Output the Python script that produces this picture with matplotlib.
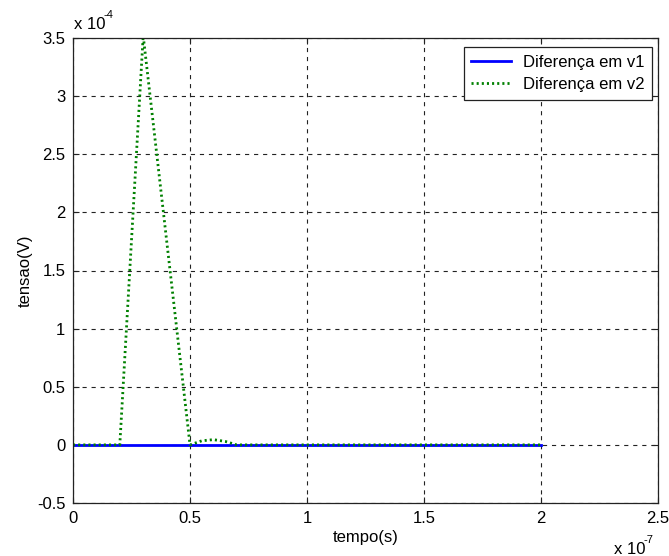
import matplotlib
matplotlib.use("Agg")
import matplotlib.pyplot as plt
import numpy as np

plt.rcParams['font.family'] = ['Liberation Sans', 'DejaVu Sans']
plt.rcParams['lines.scale_dashes'] = False

# Dados (tempo em s, tensao em V)
t_v1 = np.array([0.0, 2.0]) * 1e-7
dif_v1 = np.array([0.0, 0.0]) * 1e-4

t_v2 = np.array([0.0, 0.2, 0.3, 0.4, 0.5, 0.55, 0.6, 0.65, 0.7, 2.0]) * 1e-7
dif_v2 = np.array([0.0, 0.0, 3.52, 1.76, 0.0, 0.035, 0.045, 0.03, 0.0, 0.0]) * 1e-4

xticks = [0, 0.5, 1, 1.5, 2, 2.5]
yticks = [-0.5, 0, 0.5, 1, 1.5, 2, 2.5, 3, 3.5]

fs = 12

fig = plt.figure(figsize=(6.69, 5.56), dpi=100)
ax = fig.add_axes([73/669, 53/556, 585/669, 465/556])

ax.plot(t_v1, dif_v1, color='#0000ff', linewidth=2.0, label='Diferença em v1')
ax.plot(t_v2, dif_v2, color='#008000', linewidth=2.0, linestyle=(0, (1.5, 2.2)),
        label='Diferença em v2')

ax.set_xlim(0, 2.5e-7)
ax.set_ylim(-0.5e-4, 3.5e-4)
ax.set_xticks([v * 1e-7 for v in xticks])
ax.set_xticklabels([f'{v:g}' for v in xticks])
ax.set_yticks([v * 1e-4 for v in yticks])
ax.set_yticklabels([f'{v:g}' for v in yticks])

ax.grid(True, color='#222222', linewidth=0.8, linestyle=(0, (3, 3.5)))
ax.tick_params(direction='in', top=True, right=True, length=4, labelsize=fs,
               color='#222222')
ax.tick_params(axis='y', pad=5.5)
ax.tick_params(axis='x', pad=5.5)
for s in ax.spines.values():
    s.set_color('#222222')
    s.set_linewidth(0.9)

ax.set_xlabel('tempo(s)', fontsize=fs, labelpad=3)
ax.set_ylabel('tensao(V)', fontsize=fs, labelpad=3)

# multiplicadores estilo MATLAB
fig.text(74/669, 1 - 29/556, 'x 10', fontsize=fs, va='baseline', ha='left')
fig.text(103/669, 1 - 18/556, '-4', fontsize=8, va='baseline', ha='left')
fig.text(614/669, 1 - 554/556, 'x 10', fontsize=fs, va='baseline', ha='left')
fig.text(643/669, 1 - 543/556, '-7', fontsize=8, va='baseline', ha='left')

leg = ax.legend(loc='upper right', bbox_to_anchor=(652/669, 1 - 47/556),
                bbox_transform=fig.transFigure, fancybox=False,
                framealpha=1, edgecolor='#222222', fontsize=fs, handlelength=2.4,
                handletextpad=0.7, borderpad=0.45, labelspacing=0.45,
                borderaxespad=0)
leg.get_frame().set_linewidth(0.9)

fig.savefig('out.png', dpi=100)
